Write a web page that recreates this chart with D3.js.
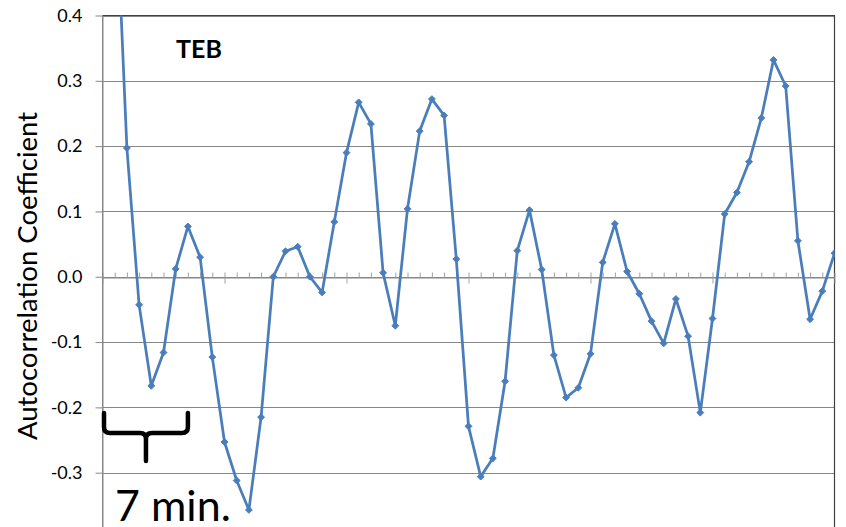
<!DOCTYPE html>
<html>
<head>
<meta charset="utf-8">
<script src="https://cdn.jsdelivr.net/npm/d3@7"></script>
<style>
  html, body { margin: 0; padding: 0; background: #fff; }
  svg { display: block; }
  text { font-family: Lato, "Open Sans", sans-serif; fill: #000; }
</style>
</head>
<body>
<svg id="chart" width="846" height="527"></svg>
<script>
// Autocorrelation of the TEB series, lags 0..60 (one lag = 1 minute)
const lags = d3.range(0, 61);
const coefficients = [
  1.0, 0.63, 0.197, -0.043, -0.167, -0.116, 0.012, 0.077, 0.030, -0.123,
  -0.253, -0.312, -0.357, -0.215, 0.0, 0.039, 0.046, 0.0, -0.024, 0.084,
  0.190, 0.267, 0.234, 0.006, -0.075, 0.104, 0.223, 0.272, 0.247, 0.027,
  -0.229, -0.306, -0.278, -0.160, 0.040, 0.102, 0.011, -0.120, -0.185, -0.170,
  -0.118, 0.022, 0.081, 0.008, -0.026, -0.068, -0.102, -0.034, -0.091, -0.208,
  -0.064, 0.096, 0.129, 0.176, 0.243, 0.332, 0.292, 0.055, -0.065, -0.022,
  0.036
];
const yTicks = [0.4, 0.3, 0.2, 0.1, 0.0, -0.1, -0.2, -0.3];
const majorLags = [0, 10, 20, 30, 40, 50, 60];
const seriesName = "TEB";
const yTitle = "Autocorrelation Coefficient";
const spanLags = 7;
const spanLabel = "7 min.";

const svg = d3.select("#chart");
const plotL = 102.5, plotR = 834.5, plotT = 15.5, plotB = 538;

const x = d3.scaleLinear().domain([0, 60]).range([plotL, plotR]);
const y = d3.scaleLinear().domain([-0.4, 0.4]).range([plotB, plotT]);

svg.append("defs").append("clipPath").attr("id", "plot-clip")
  .append("rect").attr("x", plotL).attr("y", plotT)
  .attr("width", plotR - plotL).attr("height", plotB - plotT);

// horizontal gridlines
svg.append("g").selectAll("line").data(yTicks).join("line")
  .attr("x1", plotL).attr("x2", plotR)
  .attr("y1", d => Math.round(y(d)) + 0.5).attr("y2", d => Math.round(y(d)) + 0.5)
  .attr("stroke", "#878787").attr("stroke-width", 1);

// plot area border (top and right)
svg.append("path")
  .attr("d", `M${plotL},${plotT} H${plotR} V${plotB}`)
  .attr("fill", "none").attr("stroke", "#404040").attr("stroke-width", 1.2);

// y axis
const yAxis = svg.append("g").attr("transform", `translate(${plotL},0)`)
  .call(d3.axisLeft(y).tickValues(yTicks).tickFormat(d => d.toFixed(1))
    .tickSizeInner(7).tickSizeOuter(0).tickPadding(13));
yAxis.select(".domain").attr("stroke", "#878787");
yAxis.selectAll(".tick line").attr("stroke", "#878787");
yAxis.selectAll(".tick text").style("font-size", "18px").attr("fill", "#000");

// x axis along zero: minor ticks every lag, major ticks every ten lags
const zeroY = Math.round(y(0)) + 0.5;
const xMinor = svg.append("g").attr("transform", `translate(0,${zeroY})`)
  .call(d3.axisTop(x).tickValues(lags).tickFormat("").tickSizeInner(5).tickSizeOuter(0));
xMinor.selectAll(".tick line").attr("stroke", "#a3a3a3");
xMinor.select(".domain").attr("stroke", "#878787");
const xMajor = svg.append("g").attr("transform", `translate(0,${zeroY})`)
  .call(d3.axisBottom(x).tickValues(majorLags).tickFormat("").tickSizeInner(6).tickSizeOuter(0));
xMajor.selectAll(".tick line").attr("stroke", "#a3a3a3");
xMajor.select(".domain").remove();
svg.append("line").attr("x1", plotL).attr("x2", plotL).attr("y1", plotT).attr("y2", plotB)
  .attr("stroke", "#878787");

// series line and diamond markers
const pts = lags.map((l, i) => ({ lag: l, v: coefficients[i] }));
const g = svg.append("g").attr("clip-path", "url(#plot-clip)");
g.append("path").datum(pts)
  .attr("d", d3.line().x(d => x(d.lag)).y(d => y(d.v)))
  .attr("fill", "none").attr("stroke", "#4A7EBB").attr("stroke-width", 2.75)
  .attr("stroke-linejoin", "round");
g.selectAll("path.marker").data(pts).join("path").attr("class", "marker")
  .attr("transform", d => `translate(${x(d.lag)},${y(d.v)})`)
  .attr("d", d3.symbol(d3.symbolDiamond2, 30))
  .attr("fill", "#4A7EBB").attr("stroke", "#4A7EBB").attr("stroke-width", 1);

// series label
svg.append("text").attr("x", 176).attr("y", 57.5)
  .style("font-size", "25px").style("font-weight", "bold").text(seriesName);

// y axis title
svg.append("text")
  .attr("transform", `translate(37,276) rotate(-90)`)
  .attr("text-anchor", "middle")
  .style("font-size", "27.5px").text(yTitle);

// brace marking a 7-lag span
const bx0 = x(0) + 1.5, bx1 = x(spanLags), bm = (bx0 + bx1) / 2;
const bTop = 413, bMid = 433, bTip = 461, r = 6;
svg.append("path")
  .attr("d", `M${bx0},${bTop} V${bMid - r} Q${bx0},${bMid} ${bx0 + r},${bMid} H${bm - r}
              Q${bm},${bMid} ${bm},${bMid + r} V${bTip}
              M${bm},${bMid + r} Q${bm},${bMid} ${bm + r},${bMid} H${bx1 - r}
              Q${bx1},${bMid} ${bx1},${bMid - r} V${bTop}`)
  .attr("fill", "none").attr("stroke", "#000").attr("stroke-width", 4.5)
  .attr("stroke-linecap", "round").attr("stroke-linejoin", "round");
svg.append("text").attr("x", 115).attr("y", 521)
  .style("font-size", "43px").text(spanLabel);
</script>
</body>
</html>
